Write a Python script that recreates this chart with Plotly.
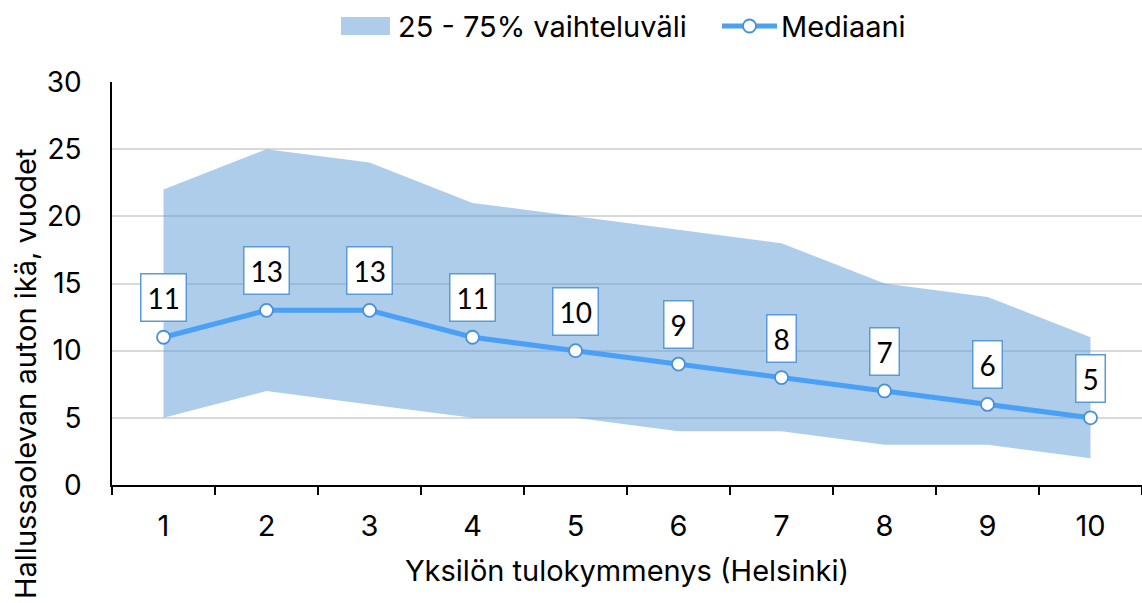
import plotly.graph_objects as go

categories = ["1", "2", "3", "4", "5", "6", "7", "8", "9", "10"]
q25 = [5, 7, 6, 5, 5, 4, 4, 3, 3, 2]
q75 = [22, 25, 24, 21, 20, 19, 18, 15, 14, 11]
median = [11, 13, 13, 11, 10, 9, 8, 7, 6, 5]
y_ticks = [0, 5, 10, 15, 20, 25, 30]

band_name = "25 - 75% vaihteluväli"
median_name = "Mediaani"
x_title = "Yksilön tulokymmenys (Helsinki)"
y_title = "Hallussaolevan auton ikä, vuodet"

FONT = "Inter, Roboto, sans-serif"
LABEL_FONT = "Lato, Open Sans, sans-serif"
band_color = "rgba(91,155,213,0.5)"
band_legend_color = "#ADCDEA"
line_color = "#4AA0F7"
marker_edge = "#4A90D9"

W, H = 1142, 603
L, R, T, B = 112, 0, 82, 118
PW, PH = W - L - R, H - T - B


def px(xp):
    return (xp - L) / PW


def py(yp):
    return (H - B - yp) / PH


fig = go.Figure()
fig.add_trace(go.Scatter(
    x=categories, y=q25, mode="lines", line=dict(width=0, color=band_color),
    showlegend=False, hoverinfo="skip",
))
fig.add_trace(go.Scatter(
    x=categories, y=q75, mode="lines", line=dict(width=0, color=band_color),
    fill="tonexty", fillcolor=band_color, name=band_name, showlegend=False,
))
fig.add_trace(go.Scatter(
    x=categories, y=median, mode="lines+markers", name=median_name,
    line=dict(color=line_color, width=5), showlegend=False,
    marker=dict(size=13, color="white", line=dict(color=marker_edge, width=1.8)),
))

for i, v in enumerate(median):
    fig.add_annotation(
        x=i, y=v, xref="x", yref="y", text=str(v), showarrow=False,
        yanchor="bottom", yshift=15,
        font=dict(family=LABEL_FONT, size=28, color="black"),
        bgcolor="white", bordercolor="#5B9BD5", borderwidth=1.5, borderpad=6,
    )

# y-axis title
fig.add_annotation(
    x=px(25), y=py(374), xref="paper", yref="paper", text=y_title,
    textangle=-90, showarrow=False, xanchor="center", yanchor="middle",
    font=dict(family=FONT, size=29, color="black"),
)

# legend (drawn manually to match the swatch shapes)
leg_y = 26
fig.add_shape(type="rect", xref="paper", yref="paper",
              x0=px(341), x1=px(390), y0=py(35), y1=py(17),
              fillcolor=band_legend_color, line=dict(width=0))
fig.add_annotation(x=px(396), y=py(leg_y), xref="paper", yref="paper",
                   text=band_name, showarrow=False, xanchor="left", yanchor="middle",
                   font=dict(family=FONT, size=29, color="black"))
fig.add_shape(type="line", xref="paper", yref="paper",
              x0=px(722), x1=px(777), y0=py(leg_y), y1=py(leg_y),
              line=dict(color=line_color, width=5))
fig.add_shape(type="circle", xref="paper", yref="paper",
              x0=px(743), x1=px(756), y0=py(leg_y + 6.5), y1=py(leg_y - 6.5),
              fillcolor="white", line=dict(color=marker_edge, width=1.8))
fig.add_annotation(x=px(779), y=py(leg_y), xref="paper", yref="paper",
                   text=median_name, showarrow=False, xanchor="left", yanchor="middle",
                   font=dict(family=FONT, size=29, color="black"))

fig.update_layout(
    width=W, height=H,
    margin=dict(l=L, r=R, t=T, b=B, autoexpand=False),
    paper_bgcolor="white", plot_bgcolor="white",
    font=dict(family=FONT, size=28, color="black"),
    showlegend=False,
    xaxis=dict(
        type="category", tickson="boundaries", ticks="outside", ticklen=8,
        tickwidth=1.5, tickcolor="black", showline=True, linecolor="black",
        linewidth=2, showgrid=False, range=[-0.5, 9.5],
        tickfont=dict(family=FONT, size=29, color="black"),
        ticklabelstandoff=14,
        title=dict(text=x_title, standoff=19, font=dict(family=FONT, size=29)),
    ),
    yaxis=dict(
        range=[0, 30], tickvals=y_ticks, showline=True, linecolor="black",
        linewidth=1.5, showgrid=True, gridcolor="#D9D9D9", gridwidth=1.5,
        zeroline=False, ticks="", ticklabelstandoff=23,
        tickfont=dict(family=FONT, size=28, color="black"),
    ),
)

fig.write_html(
    "out.html",
    config={"displayModeBar": False},
    post_script="document.body.style.margin='0';document.body.style.overflow='hidden';",
)
